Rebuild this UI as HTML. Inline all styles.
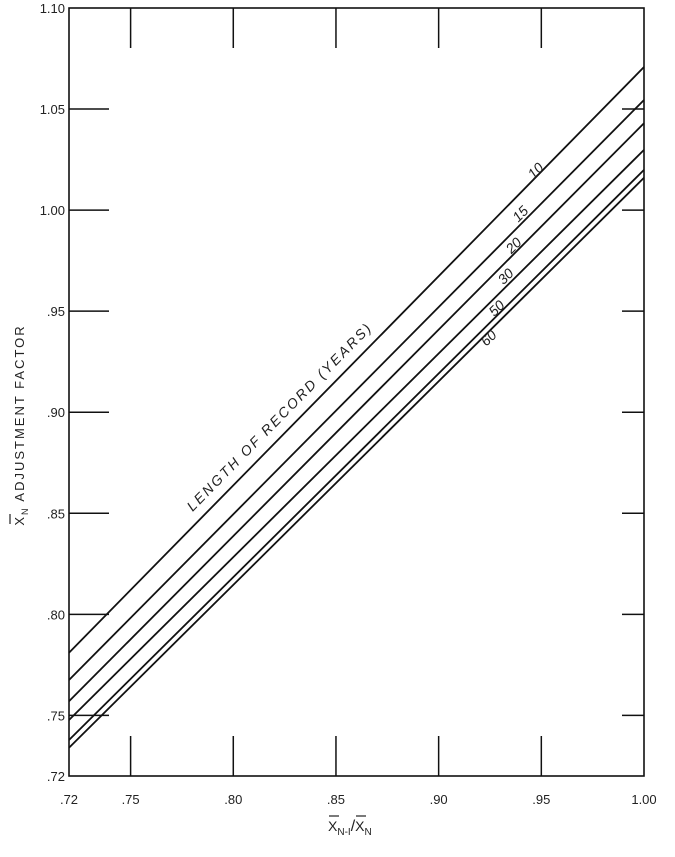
<!DOCTYPE html>
<html><head><meta charset="utf-8"><style>
html,body{margin:0;padding:0;background:#fff;}
svg{display:block;font-family:"Liberation Sans",sans-serif;}
</style></head><body>
<svg id="chart" width="675" height="857" viewBox="0 0 675 857">
<g id="marks"></g>
<g>
<text x="24" y="425" text-anchor="middle" font-size="13" letter-spacing="2" fill="#222" transform="rotate(-90 24 425)">X<tspan font-size="9" dy="4">N</tspan><tspan dy="-4">  ADJUSTMENT FACTOR</tspan></text>
<line x1="10" y1="514" x2="10" y2="524" stroke="#222" stroke-width="1.2"/>
</g>
<g>
<line x1="329" y1="816" x2="339" y2="816" stroke="#222" stroke-width="1.2"/>
<line x1="356" y1="816" x2="366" y2="816" stroke="#222" stroke-width="1.2"/>
<text x="328" y="831" font-size="14" fill="#222">X<tspan font-size="10" dy="4">N-I</tspan><tspan dy="-4" font-size="16">/</tspan>X<tspan font-size="10" dy="4">N</tspan></text>
</g>
</svg>
<script>
const xTicks=[0.72,0.75,0.80,0.85,0.90,0.95,1.00];
const xTickLabels=[".72",".75",".80",".85",".90",".95","1.00"];
const yTicks=[0.72,0.75,0.80,0.85,0.90,0.95,1.00,1.05,1.10];
const yTickLabels=[".72",".75",".80",".85",".90",".95","1.00","1.05","1.10"];
const seriesNames=["10","15","20","30","50","60"];
const startValues=[0.781,0.7675,0.757,0.7477,0.7378,0.734];
const endValues=[1.0708,1.0545,1.043,1.0298,1.0199,1.016];
const labelX=[0.9474,0.940,0.9367,0.9328,0.9284,0.9245];
const labelOffsets=[-7,-11,-9,-11,-8,6];

const L=69,R=644,T=8,B=776;
const xs=v=>L+(v-0.72)/(1.00-0.72)*(R-L);
const ys=v=>B-(v-0.72)/(1.10-0.72)*(B-T);
const NS="http://www.w3.org/2000/svg";
const g=document.getElementById('marks');
function mk(tag,attrs){const e=document.createElementNS(NS,tag);for(const k in attrs)e.setAttribute(k,attrs[k]);g.appendChild(e);return e;}

const frame=mk('rect',{x:L,y:T,width:R-L,height:B-T,fill:'none',stroke:'#111','stroke-width':1.6});



xTicks.forEach((v,i)=>{
  const x=xs(v);
  if(i>0&&i<xTicks.length-1){
    const t1=mk('line',{x1:x,y1:T,x2:x,y2:T+40,stroke:'#111','stroke-width':1.5});
    
    
    const t2=mk('line',{x1:x,y1:B,x2:x,y2:B-40,stroke:'#111','stroke-width':1.5});
    
    
  }
  const tx=mk('text',{x:x,y:804,'text-anchor':'middle','font-size':13,fill:'#222'});
  tx.textContent=xTickLabels[i];
  
  
});
yTicks.forEach((v,i)=>{
  const y=ys(v);
  if(i>0&&i<yTicks.length-1){
    const t1=mk('line',{x1:L,y1:y,x2:L+40,y2:y,stroke:'#111','stroke-width':1.5});
    
    
    const t2=mk('line',{x1:R,y1:y,x2:R-22,y2:y,stroke:'#111','stroke-width':1.5});
    
    
  }
  const tx=mk('text',{x:L-4,y:y+5,'text-anchor':'end','font-size':13,fill:'#222'});
  tx.textContent=yTickLabels[i];
  
  
});

seriesNames.forEach((n,i)=>{
  const ln=mk('line',{x1:xs(0.72),y1:ys(startValues[i]),x2:xs(1.00),y2:ys(endValues[i]),stroke:'#111','stroke-width':1.8});
  
  
  const f=(labelX[i]-0.72)/0.28;
  const yv=startValues[i]+f*(endValues[i]-startValues[i]);
  const px=xs(labelX[i])+3,py=ys(yv)+labelOffsets[i]+4;
  const ang=Math.atan2(ys(endValues[i])-ys(startValues[i]),xs(1)-xs(0.72))*180/Math.PI;
  const t=mk('text',{x:px,y:py,'font-size':14,'font-style':'italic',fill:'#222','text-anchor':'middle',transform:`rotate(${ang} ${px} ${py})`});
  t.textContent=n;
  
  
});

const ang0=Math.atan2(ys(endValues[0])-ys(startValues[0]),xs(1)-xs(0.72))*180/Math.PI;
const lx=283,ly=420;
const lt=mk('text',{x:lx,y:ly,'font-size':14,'font-style':'italic','letter-spacing':2.2,fill:'#222','text-anchor':'middle',transform:`rotate(${ang0} ${lx} ${ly})`});
lt.textContent="LENGTH OF RECORD (YEARS)";


</script>
</body></html>
